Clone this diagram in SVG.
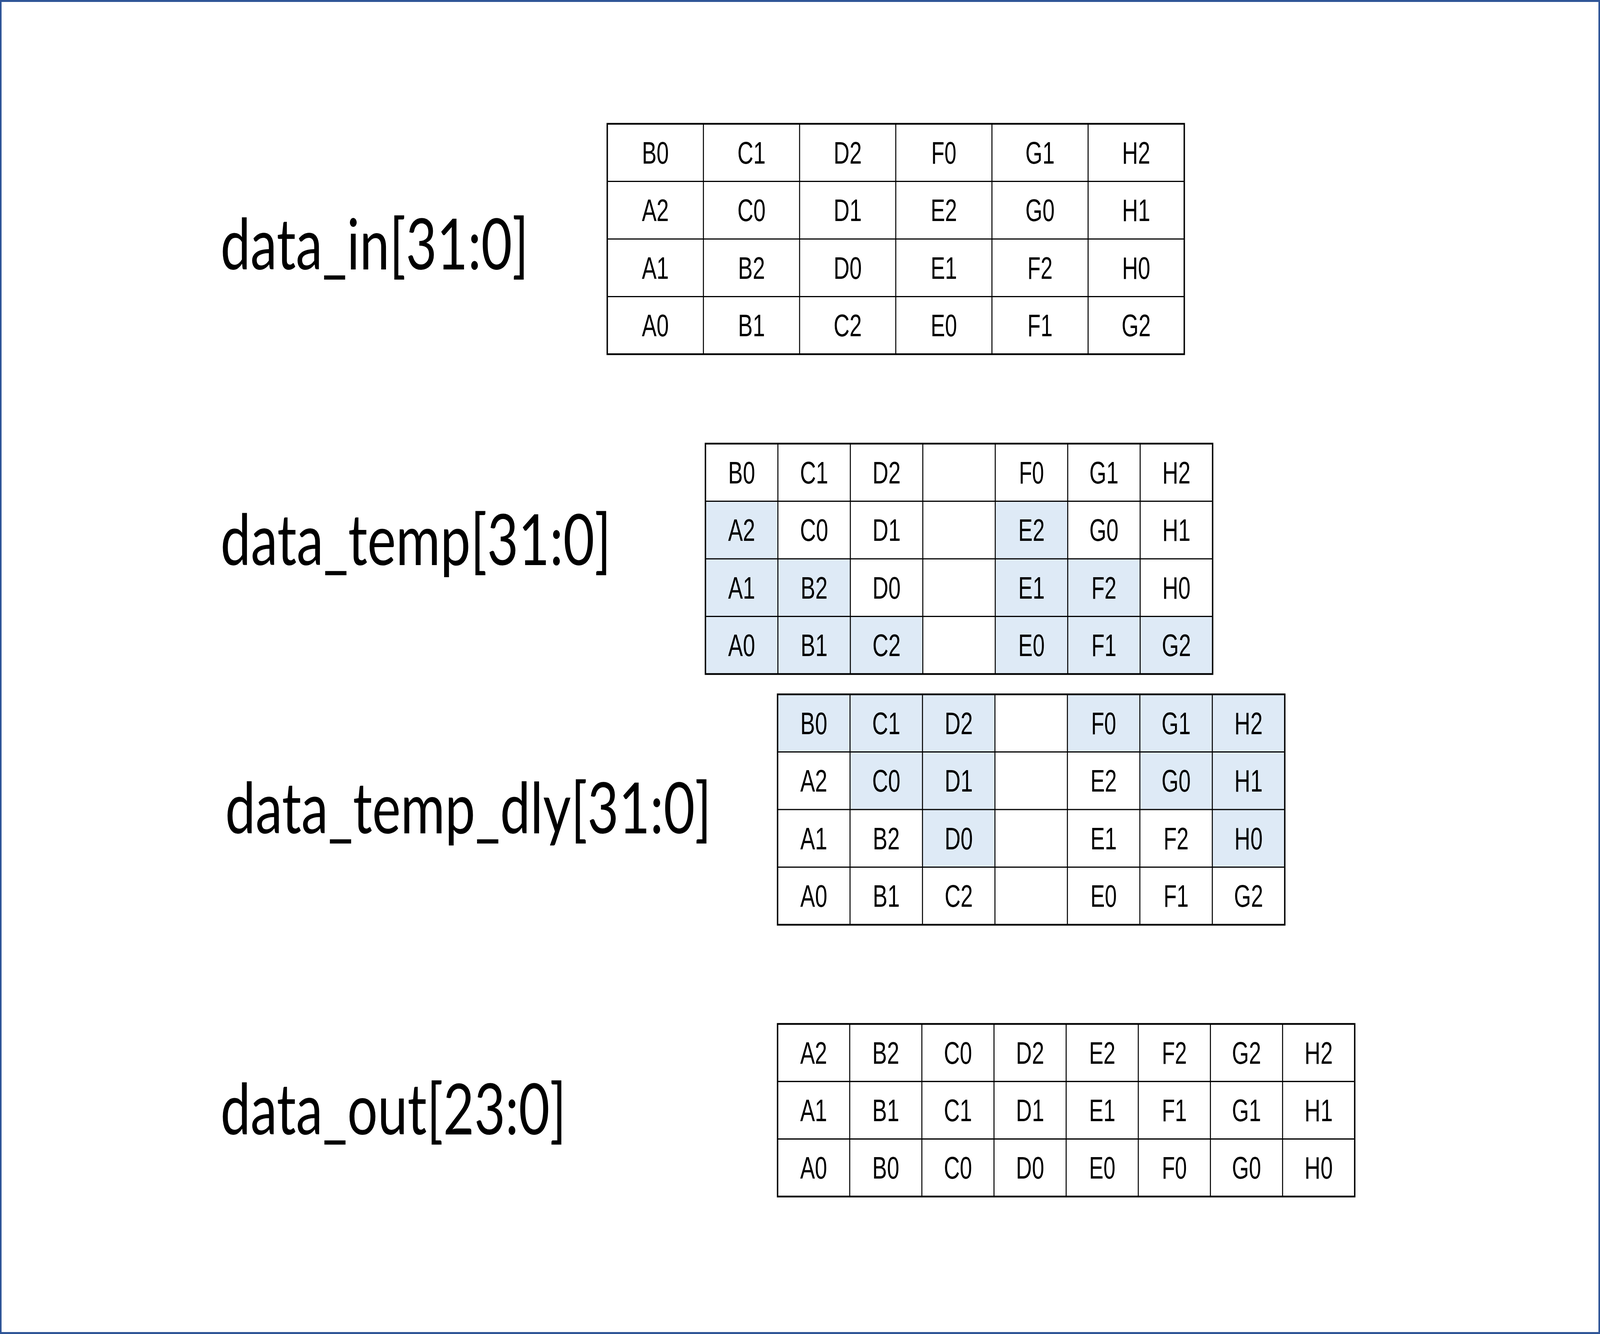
<svg xmlns="http://www.w3.org/2000/svg" width="5101" height="3416" viewBox="0 0 5101 3416" preserveAspectRatio="none">
<style>
svg{display:block;width:100vw;height:100vh}
.bg{fill:#ffffff}
.frame{fill:none;stroke:#2F5597;stroke-width:5}
.tb{fill:#ffffff;stroke:none}
.sh{fill:#DEEAF6;stroke:none}
.grid{fill:none;stroke:#000000;stroke-width:3.2}
.outer{fill:none;stroke:#000000;stroke-width:4.5}
.t{font-family:"Liberation Sans",Arial,sans-serif;font-size:80px;fill:#000000;text-anchor:middle}
.lbl{font-family:Lato,"Open Sans","Liberation Sans",sans-serif;font-size:180px;fill:#000000}
</style>
<rect class="bg" x="0" y="0" width="5101" height="3416"/>
<rect class="frame" x="2.5" y="2.5" width="5096" height="3411"/>

<g id="labels">
<text id="label-data-in" class="lbl" x="703" y="690" textLength="982" lengthAdjust="spacingAndGlyphs">data_in[31:0]</text>
<text id="label-data-temp" class="lbl" x="703" y="1447" textLength="1245" lengthAdjust="spacingAndGlyphs">data_temp[31:0]</text>
<text id="label-data-temp-dly" class="lbl" x="718" y="2134" textLength="1550" lengthAdjust="spacingAndGlyphs">data_temp_dly[31:0]</text>
<text id="label-data-out" class="lbl" x="703" y="2905" textLength="1102" lengthAdjust="spacingAndGlyphs">data_out[23:0]</text>
</g>

<g id="connectors"></g>

<g id="table-data-in" transform="translate(1936,317)">
<rect class="tb" x="0" y="0" width="1839.6" height="590"/>
<path class="grid" d="M306.6 0V590M613.2 0V590M919.8 0V590M1226.4 0V590M1533 0V590M0 147.5H1839.6M0 295H1839.6M0 442.5H1839.6"/>
<rect class="outer" x="0" y="0" width="1839.6" height="590"/>
<text class="t" x="153.3" y="101.8" textLength="86" lengthAdjust="spacingAndGlyphs">B0</text>
<text class="t" x="459.9" y="101.8" textLength="90" lengthAdjust="spacingAndGlyphs">C1</text>
<text class="t" x="766.5" y="101.8" textLength="90" lengthAdjust="spacingAndGlyphs">D2</text>
<text class="t" x="1073.1" y="101.8" textLength="80" lengthAdjust="spacingAndGlyphs">F0</text>
<text class="t" x="1379.7" y="101.8" textLength="93" lengthAdjust="spacingAndGlyphs">G1</text>
<text class="t" x="1686.3" y="101.8" textLength="90" lengthAdjust="spacingAndGlyphs">H2</text>
<text class="t" x="153.3" y="249.3" textLength="86" lengthAdjust="spacingAndGlyphs">A2</text>
<text class="t" x="459.9" y="249.3" textLength="90" lengthAdjust="spacingAndGlyphs">C0</text>
<text class="t" x="766.5" y="249.3" textLength="90" lengthAdjust="spacingAndGlyphs">D1</text>
<text class="t" x="1073.1" y="249.3" textLength="84" lengthAdjust="spacingAndGlyphs">E2</text>
<text class="t" x="1379.7" y="249.3" textLength="93" lengthAdjust="spacingAndGlyphs">G0</text>
<text class="t" x="1686.3" y="249.3" textLength="90" lengthAdjust="spacingAndGlyphs">H1</text>
<text class="t" x="153.3" y="396.8" textLength="86" lengthAdjust="spacingAndGlyphs">A1</text>
<text class="t" x="459.9" y="396.8" textLength="86" lengthAdjust="spacingAndGlyphs">B2</text>
<text class="t" x="766.5" y="396.8" textLength="90" lengthAdjust="spacingAndGlyphs">D0</text>
<text class="t" x="1073.1" y="396.8" textLength="84" lengthAdjust="spacingAndGlyphs">E1</text>
<text class="t" x="1379.7" y="396.8" textLength="80" lengthAdjust="spacingAndGlyphs">F2</text>
<text class="t" x="1686.3" y="396.8" textLength="90" lengthAdjust="spacingAndGlyphs">H0</text>
<text class="t" x="153.3" y="544.3" textLength="86" lengthAdjust="spacingAndGlyphs">A0</text>
<text class="t" x="459.9" y="544.3" textLength="86" lengthAdjust="spacingAndGlyphs">B1</text>
<text class="t" x="766.5" y="544.3" textLength="90" lengthAdjust="spacingAndGlyphs">C2</text>
<text class="t" x="1073.1" y="544.3" textLength="84" lengthAdjust="spacingAndGlyphs">E0</text>
<text class="t" x="1379.7" y="544.3" textLength="80" lengthAdjust="spacingAndGlyphs">F1</text>
<text class="t" x="1686.3" y="544.3" textLength="93" lengthAdjust="spacingAndGlyphs">G2</text>
</g>

<g id="table-data-temp" transform="translate(2249,1136)">
<rect class="tb" x="0" y="0" width="1617" height="590"/>
<rect class="sh" x="0" y="147.5" width="231" height="147.5"/>
<rect class="sh" x="924" y="147.5" width="231" height="147.5"/>
<rect class="sh" x="0" y="295" width="462" height="147.5"/>
<rect class="sh" x="924" y="295" width="462" height="147.5"/>
<rect class="sh" x="0" y="442.5" width="693" height="147.5"/>
<rect class="sh" x="924" y="442.5" width="693" height="147.5"/>
<path class="grid" d="M231 0V590M462 0V590M693 0V590M924 0V590M1155 0V590M1386 0V590M0 147.5H1617M0 295H1617M0 442.5H1617"/>
<rect class="outer" x="0" y="0" width="1617" height="590"/>
<text class="t" x="115.5" y="101.8" textLength="86" lengthAdjust="spacingAndGlyphs">B0</text>
<text class="t" x="346.5" y="101.8" textLength="90" lengthAdjust="spacingAndGlyphs">C1</text>
<text class="t" x="577.5" y="101.8" textLength="90" lengthAdjust="spacingAndGlyphs">D2</text>
<text class="t" x="1039.5" y="101.8" textLength="80" lengthAdjust="spacingAndGlyphs">F0</text>
<text class="t" x="1270.5" y="101.8" textLength="93" lengthAdjust="spacingAndGlyphs">G1</text>
<text class="t" x="1501.5" y="101.8" textLength="90" lengthAdjust="spacingAndGlyphs">H2</text>
<text class="t" x="115.5" y="249.3" textLength="86" lengthAdjust="spacingAndGlyphs">A2</text>
<text class="t" x="346.5" y="249.3" textLength="90" lengthAdjust="spacingAndGlyphs">C0</text>
<text class="t" x="577.5" y="249.3" textLength="90" lengthAdjust="spacingAndGlyphs">D1</text>
<text class="t" x="1039.5" y="249.3" textLength="84" lengthAdjust="spacingAndGlyphs">E2</text>
<text class="t" x="1270.5" y="249.3" textLength="93" lengthAdjust="spacingAndGlyphs">G0</text>
<text class="t" x="1501.5" y="249.3" textLength="90" lengthAdjust="spacingAndGlyphs">H1</text>
<text class="t" x="115.5" y="396.8" textLength="86" lengthAdjust="spacingAndGlyphs">A1</text>
<text class="t" x="346.5" y="396.8" textLength="86" lengthAdjust="spacingAndGlyphs">B2</text>
<text class="t" x="577.5" y="396.8" textLength="90" lengthAdjust="spacingAndGlyphs">D0</text>
<text class="t" x="1039.5" y="396.8" textLength="84" lengthAdjust="spacingAndGlyphs">E1</text>
<text class="t" x="1270.5" y="396.8" textLength="80" lengthAdjust="spacingAndGlyphs">F2</text>
<text class="t" x="1501.5" y="396.8" textLength="90" lengthAdjust="spacingAndGlyphs">H0</text>
<text class="t" x="115.5" y="544.3" textLength="86" lengthAdjust="spacingAndGlyphs">A0</text>
<text class="t" x="346.5" y="544.3" textLength="86" lengthAdjust="spacingAndGlyphs">B1</text>
<text class="t" x="577.5" y="544.3" textLength="90" lengthAdjust="spacingAndGlyphs">C2</text>
<text class="t" x="1039.5" y="544.3" textLength="84" lengthAdjust="spacingAndGlyphs">E0</text>
<text class="t" x="1270.5" y="544.3" textLength="80" lengthAdjust="spacingAndGlyphs">F1</text>
<text class="t" x="1501.5" y="544.3" textLength="93" lengthAdjust="spacingAndGlyphs">G2</text>
</g>

<g id="table-data-temp-dly" transform="translate(2479,1778)">
<rect class="tb" x="0" y="0" width="1617" height="590"/>
<rect class="sh" x="0" y="0" width="693" height="147.5"/>
<rect class="sh" x="924" y="0" width="693" height="147.5"/>
<rect class="sh" x="231" y="147.5" width="462" height="147.5"/>
<rect class="sh" x="1155" y="147.5" width="462" height="147.5"/>
<rect class="sh" x="462" y="295" width="231" height="147.5"/>
<rect class="sh" x="1386" y="295" width="231" height="147.5"/>
<path class="grid" d="M231 0V590M462 0V590M693 0V590M924 0V590M1155 0V590M1386 0V590M0 147.5H1617M0 295H1617M0 442.5H1617"/>
<rect class="outer" x="0" y="0" width="1617" height="590"/>
<text class="t" x="115.5" y="101.8" textLength="86" lengthAdjust="spacingAndGlyphs">B0</text>
<text class="t" x="346.5" y="101.8" textLength="90" lengthAdjust="spacingAndGlyphs">C1</text>
<text class="t" x="577.5" y="101.8" textLength="90" lengthAdjust="spacingAndGlyphs">D2</text>
<text class="t" x="1039.5" y="101.8" textLength="80" lengthAdjust="spacingAndGlyphs">F0</text>
<text class="t" x="1270.5" y="101.8" textLength="93" lengthAdjust="spacingAndGlyphs">G1</text>
<text class="t" x="1501.5" y="101.8" textLength="90" lengthAdjust="spacingAndGlyphs">H2</text>
<text class="t" x="115.5" y="249.3" textLength="86" lengthAdjust="spacingAndGlyphs">A2</text>
<text class="t" x="346.5" y="249.3" textLength="90" lengthAdjust="spacingAndGlyphs">C0</text>
<text class="t" x="577.5" y="249.3" textLength="90" lengthAdjust="spacingAndGlyphs">D1</text>
<text class="t" x="1039.5" y="249.3" textLength="84" lengthAdjust="spacingAndGlyphs">E2</text>
<text class="t" x="1270.5" y="249.3" textLength="93" lengthAdjust="spacingAndGlyphs">G0</text>
<text class="t" x="1501.5" y="249.3" textLength="90" lengthAdjust="spacingAndGlyphs">H1</text>
<text class="t" x="115.5" y="396.8" textLength="86" lengthAdjust="spacingAndGlyphs">A1</text>
<text class="t" x="346.5" y="396.8" textLength="86" lengthAdjust="spacingAndGlyphs">B2</text>
<text class="t" x="577.5" y="396.8" textLength="90" lengthAdjust="spacingAndGlyphs">D0</text>
<text class="t" x="1039.5" y="396.8" textLength="84" lengthAdjust="spacingAndGlyphs">E1</text>
<text class="t" x="1270.5" y="396.8" textLength="80" lengthAdjust="spacingAndGlyphs">F2</text>
<text class="t" x="1501.5" y="396.8" textLength="90" lengthAdjust="spacingAndGlyphs">H0</text>
<text class="t" x="115.5" y="544.3" textLength="86" lengthAdjust="spacingAndGlyphs">A0</text>
<text class="t" x="346.5" y="544.3" textLength="86" lengthAdjust="spacingAndGlyphs">B1</text>
<text class="t" x="577.5" y="544.3" textLength="90" lengthAdjust="spacingAndGlyphs">C2</text>
<text class="t" x="1039.5" y="544.3" textLength="84" lengthAdjust="spacingAndGlyphs">E0</text>
<text class="t" x="1270.5" y="544.3" textLength="80" lengthAdjust="spacingAndGlyphs">F1</text>
<text class="t" x="1501.5" y="544.3" textLength="93" lengthAdjust="spacingAndGlyphs">G2</text>
</g>

<g id="table-data-out" transform="translate(2479,2622)">
<rect class="tb" x="0" y="0" width="1840" height="442"/>
<path class="grid" d="M230 0V442M460 0V442M690 0V442M920 0V442M1150 0V442M1380 0V442M1610 0V442M0 147.3H1840M0 294.6H1840"/>
<rect class="outer" x="0" y="0" width="1840" height="442"/>
<text class="t" x="115" y="101.7" textLength="86" lengthAdjust="spacingAndGlyphs">A2</text>
<text class="t" x="345" y="101.7" textLength="86" lengthAdjust="spacingAndGlyphs">B2</text>
<text class="t" x="575" y="101.7" textLength="90" lengthAdjust="spacingAndGlyphs">C0</text>
<text class="t" x="805" y="101.7" textLength="90" lengthAdjust="spacingAndGlyphs">D2</text>
<text class="t" x="1035" y="101.7" textLength="84" lengthAdjust="spacingAndGlyphs">E2</text>
<text class="t" x="1265" y="101.7" textLength="80" lengthAdjust="spacingAndGlyphs">F2</text>
<text class="t" x="1495" y="101.7" textLength="93" lengthAdjust="spacingAndGlyphs">G2</text>
<text class="t" x="1725" y="101.7" textLength="90" lengthAdjust="spacingAndGlyphs">H2</text>
<text class="t" x="115" y="249" textLength="86" lengthAdjust="spacingAndGlyphs">A1</text>
<text class="t" x="345" y="249" textLength="86" lengthAdjust="spacingAndGlyphs">B1</text>
<text class="t" x="575" y="249" textLength="90" lengthAdjust="spacingAndGlyphs">C1</text>
<text class="t" x="805" y="249" textLength="90" lengthAdjust="spacingAndGlyphs">D1</text>
<text class="t" x="1035" y="249" textLength="84" lengthAdjust="spacingAndGlyphs">E1</text>
<text class="t" x="1265" y="249" textLength="80" lengthAdjust="spacingAndGlyphs">F1</text>
<text class="t" x="1495" y="249" textLength="93" lengthAdjust="spacingAndGlyphs">G1</text>
<text class="t" x="1725" y="249" textLength="90" lengthAdjust="spacingAndGlyphs">H1</text>
<text class="t" x="115" y="396.3" textLength="86" lengthAdjust="spacingAndGlyphs">A0</text>
<text class="t" x="345" y="396.3" textLength="86" lengthAdjust="spacingAndGlyphs">B0</text>
<text class="t" x="575" y="396.3" textLength="90" lengthAdjust="spacingAndGlyphs">C0</text>
<text class="t" x="805" y="396.3" textLength="90" lengthAdjust="spacingAndGlyphs">D0</text>
<text class="t" x="1035" y="396.3" textLength="84" lengthAdjust="spacingAndGlyphs">E0</text>
<text class="t" x="1265" y="396.3" textLength="80" lengthAdjust="spacingAndGlyphs">F0</text>
<text class="t" x="1495" y="396.3" textLength="93" lengthAdjust="spacingAndGlyphs">G0</text>
<text class="t" x="1725" y="396.3" textLength="90" lengthAdjust="spacingAndGlyphs">H0</text>
</g>
</svg>
